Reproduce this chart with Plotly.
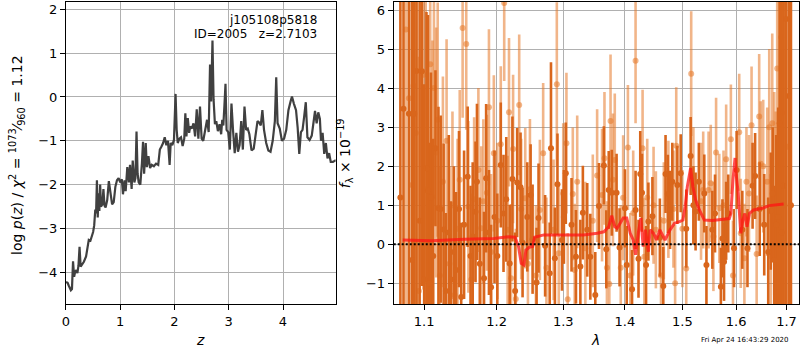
import plotly.graph_objects as go

# ---------------- left panel: log p(z) ----------------
z_grid = [0.00, 0.03, 0.05, 0.07, 0.09, 0.11, 0.13, 0.15, 0.17, 0.19, 0.21, 0.23, 0.25, 0.27, 0.30,
          0.33, 0.37, 0.40, 0.42, 0.45, 0.48, 0.50, 0.52, 0.54, 0.555, 0.57, 0.585, 0.60, 0.615, 0.63,
          0.645, 0.67, 0.69, 0.71, 0.73, 0.76, 0.79, 0.82, 0.85, 0.88, 0.91, 0.94, 0.97, 1.00, 1.03,
          1.05, 1.08, 1.10, 1.13, 1.16, 1.18, 1.21, 1.23, 1.26, 1.28, 1.30, 1.32, 1.34, 1.37, 1.40,
          1.42, 1.44, 1.47, 1.49, 1.52, 1.55, 1.58, 1.62, 1.66, 1.70, 1.73, 1.76, 1.79, 1.82, 1.85,
          1.88, 1.91, 1.93, 1.96, 1.99, 2.02, 2.04, 2.06, 2.09, 2.12, 2.15, 2.18, 2.20, 2.22, 2.245,
          2.27, 2.29, 2.32, 2.35, 2.38, 2.41, 2.44, 2.47, 2.50, 2.53, 2.56, 2.60, 2.63, 2.655, 2.675,
          2.70, 2.72, 2.745, 2.77, 2.80, 2.83, 2.86, 2.88, 2.90, 2.92, 2.94, 2.96, 2.99, 3.02, 3.05,
          3.08, 3.11, 3.14, 3.17, 3.20, 3.23, 3.26, 3.29, 3.32, 3.35, 3.38, 3.42, 3.46, 3.50, 3.53,
          3.56, 3.59, 3.62, 3.65, 3.69, 3.73, 3.77, 3.81, 3.85, 3.875, 3.90, 3.94, 3.98, 4.02, 4.06,
          4.10, 4.14, 4.165, 4.20, 4.24, 4.27, 4.30, 4.33, 4.36, 4.39, 4.42, 4.45, 4.49, 4.53, 4.56,
          4.59, 4.62, 4.65, 4.68, 4.70, 4.73, 4.76, 4.79, 4.82, 4.85, 4.88, 4.92, 4.96, 5.00]
log_pz = [-4.22, -4.24, -4.30, -4.38, -4.41, -4.38, -3.75, -4.10, -3.98, -3.95, -4.02, -3.85, -3.42, -3.87, -3.82,
          -3.76, -3.64, -3.45, -3.26, -3.28, -3.15, -3.08, -2.93, -2.57, -2.65, -1.90, -2.75, -2.20, -2.60, -2.00,
          -2.50, -2.45, -2.10, -2.48, -2.52, -2.35, -1.92, -2.25, -2.45, -2.40, -2.05, -1.90, -1.85, -1.95, -1.88,
          -2.22, -1.90, -2.15, -1.60, -1.95, -1.55, -2.10, -1.45, -1.95, -1.85, -0.79, -1.75, -1.95, -2.00, -1.50,
          -1.02, -1.75, -1.05, -1.60, -1.35, -1.62, -1.55, -1.58, -1.52, -1.55, -1.20, -1.13, -1.05, -0.92, -1.10,
          -1.00, -1.55, -1.05, -1.10, -0.98, 0.07, -0.75, -1.05, -0.95, -0.92, -1.12, -0.95, -0.37, -0.90, -0.48,
          -0.82, -0.67, -0.72, -0.60, -0.90, -0.28, -0.95, -0.22, -0.95, -1.00, -0.78, -0.52, -0.80, 0.74, -0.10,
          1.29, -0.05, -0.62, -0.55, -0.78, -0.62, -0.85, -0.52, -0.65, -0.20, 0.30, -0.75, -0.80, -1.20, -0.15,
          -0.78, -1.28, -0.82, -1.25, -1.10, -0.55, -1.20, -0.22, -0.75, -0.72, -0.85, -1.22, -1.18, -0.80, -0.55,
          -0.58, -0.65, -0.30, -0.75, -1.05, -1.22, -1.25, -1.00, -0.55, 0.45, -0.60, -0.72, -1.00, -0.95, -0.75,
          -0.30, -0.10, 0.01, -0.15, -0.30, -0.70, -1.30, -0.80, -0.75, -0.45, -0.12, -0.92, -0.98, -0.88, -0.65,
          -0.32, -0.60, -0.35, -0.50, -1.00, -0.82, -1.30, -1.05, -1.40, -1.28, -1.48, -1.48, -1.45, -1.45]

# ---------------- right panel: spectrum ----------------
# darker beam (wavelength in micron, flux, 1-sigma error)
wave_a = [1.069, 1.073, 1.080, 1.084, 1.087, 1.090, 1.094, 1.097, 1.100, 1.103,
          1.105, 1.107, 1.109, 1.112, 1.115, 1.119, 1.122, 1.126, 1.129, 1.133,
          1.136, 1.140, 1.143, 1.147, 1.150, 1.154, 1.159, 1.163, 1.166, 1.170,
          1.172, 1.176, 1.182, 1.185, 1.189, 1.192, 1.197, 1.201, 1.206, 1.210,
          1.214, 1.219, 1.223, 1.227, 1.230, 1.235, 1.238, 1.245, 1.250, 1.253,
          1.259, 1.262, 1.272, 1.279, 1.281, 1.287, 1.291, 1.298, 1.301, 1.304,
          1.313, 1.320, 1.327, 1.331, 1.338, 1.343, 1.351, 1.357, 1.365, 1.369,
          1.373, 1.378, 1.386, 1.391, 1.400, 1.403, 1.412, 1.418, 1.423, 1.426,
          1.429, 1.436, 1.440, 1.447, 1.460, 1.466, 1.470, 1.474, 1.478, 1.482,
          1.491, 1.497, 1.507, 1.515, 1.520, 1.524, 1.530, 1.540, 1.544, 1.555,
          1.560, 1.571, 1.574, 1.577, 1.581, 1.585, 1.596, 1.601, 1.612, 1.622,
          1.632, 1.637, 1.646, 1.655, 1.663, 1.668, 1.672, 1.675, 1.679, 1.683,
          1.686, 1.690, 1.694, 1.699, 1.705, 1.709]
flux_a = [1.20, 3.47, 3.34, -0.40, 3.34, 4.44, 0.60, 4.43, -0.90, 1.95,
          1.37, -1.00, 1.20, -0.30, 2.46, 0.92, 0.90, 0.38, -1.20, 0.30,
          -0.90, -0.20, -0.66, 0.90, -1.35, 0.50, 1.73, -0.30, 0.20, 0.83,
          1.60, -0.50, -0.87, 1.69, 0.30, -1.10, 0.70, -0.30, 2.03, 0.79,
          1.15, -0.49, 1.67, -1.20, 1.58, 1.46, 0.04, 0.70, 1.26, 0.13,
          -0.98, 0.67, -0.04, -0.74, 2.46, -0.36, 1.54, 0.11, 0.70, 1.82,
          0.50, -0.32, -0.57, 0.81, 0.37, -0.32, -1.30, 0.98, 2.02, -0.13,
          1.39, 1.32, 1.32, -0.08, 0.92, -0.53, -1.15, 0.88, -0.37, 1.80,
          1.32, -0.53, 0.58, 0.72, 0.17, -1.07, 1.80, 1.29, 0.88, 1.60,
          1.52, 1.82, 0.40, 2.26, 1.00, 0.84, 1.60, 1.30, -0.53, 0.37,
          0.79, -1.09, 0.15, -0.45, 0.60, 0.79, -0.10, 1.90, 0.37, -0.10,
          1.50, 1.75, 0.90, 0.50, -0.20, 0.85, 1.30, -0.40, 0.50, 0.70,
          3.10, 0.30, 1.50, 5.77, 3.80, 1.00]
err_a = [9.0, 8.0, 7.5, 7.0, 6.5, 6.5, 6.0, 5.5, 5.0, 4.0,
         4.5, 3.6, 3.2, 3.0, 2.0, 2.6, 2.4, 2.2, 2.0, 2.5,
         2.0, 2.2, 2.0, 2.0, 1.9, 1.9, 1.8, 1.8, 1.9, 1.8,
         2.0, 1.7, 1.7, 1.9, 1.6, 1.6, 1.7, 1.6, 1.6, 1.5,
         1.6, 1.5, 1.6, 1.5, 1.4, 1.4, 1.4, 1.4, 1.3, 1.4,
         1.4, 1.4, 1.3, 1.3, 2.2, 1.3, 1.3, 1.3, 1.2, 1.3,
         1.2, 1.2, 1.2, 1.2, 1.2, 1.1, 1.1, 1.1, 1.0, 1.0,
         1.0, 1.1, 1.0, 1.0, 1.0, 1.0, 1.0, 1.0, 1.0, 1.1,
         1.0, 1.0, 1.0, 1.0, 1.0, 1.0, 1.0, 1.0, 1.0, 1.0,
         1.0, 1.0, 1.0, 1.0, 1.0, 1.0, 1.0, 1.0, 1.0, 1.0,
         1.0, 1.0, 1.0, 1.0, 1.0, 1.0, 1.0, 1.0, 1.0, 1.0,
         1.1, 1.1, 1.2, 1.3, 1.4, 1.5, 1.7, 1.9, 2.3, 2.8,
         6.0, 7.0, 8.0, 9.0, 9.0, 9.0]

# lighter beam
wave_b = [1.076, 1.080, 1.084, 1.086, 1.089, 1.093, 1.099, 1.102, 1.108, 1.111,
          1.113, 1.116, 1.118, 1.121, 1.125, 1.130, 1.134, 1.138, 1.141, 1.145,
          1.148, 1.152, 1.157, 1.160, 1.164, 1.168, 1.174, 1.178, 1.181, 1.186,
          1.189, 1.192, 1.196, 1.201, 1.206, 1.211, 1.216, 1.218, 1.221, 1.224,
          1.228, 1.233, 1.236, 1.242, 1.246, 1.249, 1.258, 1.264, 1.269, 1.274,
          1.285, 1.290, 1.293, 1.300, 1.305, 1.307, 1.315, 1.318, 1.322, 1.335,
          1.347, 1.354, 1.362, 1.366, 1.370, 1.374, 1.376, 1.380, 1.383, 1.393,
          1.397, 1.405, 1.409, 1.414, 1.418, 1.430, 1.433, 1.438, 1.449, 1.453,
          1.462, 1.467, 1.475, 1.484, 1.487, 1.489, 1.500, 1.507, 1.516, 1.520,
          1.534, 1.538, 1.548, 1.552, 1.557, 1.562, 1.568, 1.576, 1.581, 1.590,
          1.594, 1.606, 1.609, 1.616, 1.620, 1.625, 1.630, 1.640, 1.645, 1.648,
          1.653, 1.661, 1.665, 1.668, 1.671, 1.675, 1.678, 1.681, 1.685, 1.689,
          1.691, 1.696, 1.702]
flux_b = [5.50, 3.74, 1.52, 4.06, 2.85, -1.20, 4.34, 1.40, 4.61, 1.22,
          4.00, 2.35, 3.19, -0.80, 1.60, 2.65, -0.50, 1.00, -1.30, 0.40,
          1.65, 5.54, 5.13, 0.96, -0.90, 1.15, 1.90, 0.41, 1.10, 1.32,
          3.51, -0.20, 2.33, 0.60, 2.56, 6.18, 0.37, 3.38, -0.87, 2.44,
          -1.40, 3.57, 0.90, 1.18, -0.50, 1.41, -0.80, 0.88, 2.33, -0.60,
          0.37, 4.10, -0.23, 1.30, 2.59, -1.41, 1.29, -0.66, 1.60, -0.10,
          0.60, 1.76, 1.26, 2.20, -0.60, -1.02, 3.16, 1.65, 2.16, -0.60,
          1.19, 2.48, -0.80, 0.80, 4.70, 2.46, -0.32, 1.20, 1.00, 0.37,
          -0.80, 0.60, 1.15, 0.90, -1.00, 2.52, 0.40, -0.62, 4.37, 1.50,
          1.10, 1.39, 1.39, 1.56, 0.20, 2.35, 0.92, 1.00, 2.18, 2.69,
          -0.80, 2.87, 0.28, -0.36, 1.60, 1.30, 3.05, -0.25, 3.27, 2.06,
          2.00, 1.60, 3.00, -0.30, 3.10, 1.30, 0.40, 4.50, 2.00, 5.30,
          3.37, 1.00, 2.50]
err_b = [8.5, 8.0, 7.5, 7.0, 6.5, 6.0, 5.5, 5.0, 4.5, 4.0,
         3.5, 3.2, 3.0, 2.8, 2.7, 2.6, 2.5, 2.4, 2.4, 2.3,
         2.3, 2.3, 2.2, 2.2, 2.2, 2.1, 2.1, 2.1, 2.1, 2.0,
         2.0, 2.0, 2.0, 2.0, 2.0, 2.0, 1.9, 1.9, 1.9, 1.9,
         1.8, 1.8, 1.8, 1.8, 1.8, 1.8, 1.8, 1.8, 1.8, 1.8,
         1.8, 2.1, 1.8, 1.8, 1.8, 1.7, 1.7, 1.7, 1.7, 1.7,
         1.7, 1.7, 1.7, 1.7, 1.7, 1.7, 1.7, 1.7, 1.7, 1.6,
         1.6, 1.6, 1.6, 1.6, 1.6, 1.5, 1.5, 1.5, 1.5, 1.5,
         1.5, 1.5, 1.5, 1.5, 1.5, 1.5, 1.5, 1.5, 1.6, 1.5,
         1.5, 1.5, 1.5, 1.5, 1.4, 1.4, 1.4, 1.4, 1.4, 1.4,
         1.4, 1.5, 1.4, 1.4, 1.4, 1.5, 1.5, 1.5, 1.6, 1.6,
         1.7, 1.9, 2.0, 2.1, 2.3, 2.6, 3.0, 4.0, 5.0, 6.5,
         7.5, 8.0, 9.0]

# best-fit template
wave_model = [1.072, 1.110, 1.155, 1.196, 1.217, 1.227, 1.232, 1.236, 1.240, 1.243, 1.248, 1.253, 1.256,
              1.260, 1.270, 1.300, 1.332, 1.354, 1.365, 1.373, 1.378, 1.383, 1.387, 1.392, 1.397, 1.403,
              1.409, 1.414, 1.418, 1.423, 1.427, 1.431, 1.435, 1.440, 1.443, 1.449, 1.454, 1.460, 1.469,
              1.478, 1.486, 1.495, 1.501, 1.505, 1.509, 1.515, 1.519, 1.524, 1.531, 1.540, 1.555, 1.587,
              1.590, 1.594, 1.598, 1.600, 1.604, 1.609, 1.613, 1.617, 1.621, 1.626, 1.634, 1.651, 1.665,
              1.694]
flux_model = [0.11, 0.09, 0.13, 0.15, 0.19, 0.18, -0.06, -0.49, -0.53, -0.15, -0.08, -0.06, 0.18,
              0.20, 0.24, 0.24, 0.24, 0.28, 0.32, 0.45, 0.73, 0.45, 0.41, 0.54, 0.67, 0.67,
              0.28, 0.11, -0.27, 0.32, 0.67, -0.06, 0.37, -0.19, 0.37, 0.28, 0.11, 0.37, 0.11,
              0.37, 0.54, 0.58, 0.62, 0.96, 1.48, 1.95, 1.48, 1.14, 0.88, 0.62, 0.61, 0.66,
              0.79, 1.65, 2.21, 1.82, 1.31, 0.28, 0.62, 0.79, 0.45, 0.79, 0.88, 0.92, 0.99,
              1.03]

z_ticks = [0, 1, 2, 3, 4]
logp_ticks = [-4, -3, -2, -1, 0, 1, 2]
wave_ticks = [1.1, 1.2, 1.3, 1.4, 1.5, 1.6, 1.7]
flux_ticks = [-1, 0, 1, 2, 3, 4, 5, 6]

DARK = "#d9661c"
LIGHT = "rgba(230,120,40,0.55)"
FONT = "DejaVu Sans"

fig = go.Figure()

fig.add_trace(go.Scatter(x=z_grid, y=log_pz, mode="lines",
                         line=dict(color="#404040", width=2.2),
                         xaxis="x", yaxis="y", showlegend=False))

fig.add_trace(go.Scatter(x=wave_b, y=flux_b, mode="markers",
                         marker=dict(color=LIGHT, size=6),
                         error_y=dict(type="data", array=err_b, color=LIGHT, thickness=2.6, width=0),
                         xaxis="x2", yaxis="y2", showlegend=False))
fig.add_trace(go.Scatter(x=wave_a, y=flux_a, mode="markers",
                         marker=dict(color=DARK, size=6),
                         error_y=dict(type="data", array=err_a, color=DARK, thickness=2.6, width=0),
                         xaxis="x2", yaxis="y2", showlegend=False))
fig.add_trace(go.Scatter(x=wave_model, y=flux_model, mode="lines",
                         line=dict(color="rgba(255,20,20,0.75)", width=3),
                         xaxis="x2", yaxis="y2", showlegend=False))
fig.add_trace(go.Scatter(x=[1.0605, 1.7256], y=[0, 0], mode="lines",
                         line=dict(color="black", width=2, dash="2px,2px"),
                         xaxis="x2", yaxis="y2", showlegend=False))

axis_common = dict(showline=True, linecolor="black", linewidth=1, mirror=True,
                   ticks="outside", ticklen=5, tickwidth=1, tickcolor="black",
                   showgrid=True, gridcolor="#b0b0b0", gridwidth=1, zeroline=False,
                   tickfont=dict(family=FONT, size=13, color="black"))

fig.update_layout(
    width=800, height=350,
    margin=dict(l=0, r=0, t=0, b=0),
    paper_bgcolor="white", plot_bgcolor="white",
    hovermode=False,
    font=dict(family=FONT, color="black"),
    xaxis=dict(domain=[62.3 / 800, 333.3 / 800], range=[0, 4.97], anchor="y",
               tickvals=z_ticks, **axis_common),
    yaxis=dict(domain=[1 - 304 / 350, 1 - 2 / 350], range=[-4.723, 2.167], anchor="x",
               tickvals=logp_ticks, **axis_common),
    xaxis2=dict(domain=[391.7 / 800, 799.0 / 800], type="log", range=[0.02551, 0.23694],
                anchor="y2", tickvals=wave_ticks, ticktext=[f"{v:.1f}" for v in wave_ticks],
                **axis_common),
    yaxis2=dict(domain=[1 - 304 / 350, 1 - 2 / 350], range=[-1.530, 6.205], anchor="x2",
                tickvals=flux_ticks, **axis_common),
)

annotations = [
    dict(text="j105108p5818", x=316.7 / 800, y=1 - 20 / 350, xanchor="right", yanchor="middle",
         font=dict(size=12)),
    dict(text="ID=2005\u00a0\u00a0\u00a0z=2.7103", x=316.7 / 800, y=1 - 33.5 / 350, xanchor="right",
         yanchor="middle", font=dict(size=12)),
    dict(text="<i>z</i>", x=197 / 800, y=1 - 340 / 350, xanchor="center", yanchor="middle",
         font=dict(size=14)),
    dict(text="<i>λ</i>", x=594 / 800, y=1 - 340 / 350, xanchor="center", yanchor="middle",
         font=dict(size=14)),
    dict(text="log <i>p</i>(<i>z</i>) / <i>χ</i><sup>2</sup> = <sup>1073</sup>⁄<sub>960</sub> = 1.12",
         x=13 / 800, y=1 - 155 / 350, xanchor="center", yanchor="middle", textangle=-90,
         font=dict(size=14)),
    dict(text="<i>f</i><sub>λ</sub> × 10<sup>−19</sup>", x=343 / 800, y=1 - 153 / 350,
         xanchor="center", yanchor="middle", textangle=-90, font=dict(size=14)),
    dict(text="Fri Apr 24 16:43:29 2020", x=744.3 / 800, y=1 - 339.7 / 350, xanchor="center",
         yanchor="middle", font=dict(size=7)),
]
for a in annotations:
    a.update(xref="paper", yref="paper", showarrow=False)
fig.update_layout(annotations=annotations)

fig.write_html("out.html", config={"displayModeBar": False},
               post_script="document.body.style.margin='0';document.body.style.overflow='hidden';")
